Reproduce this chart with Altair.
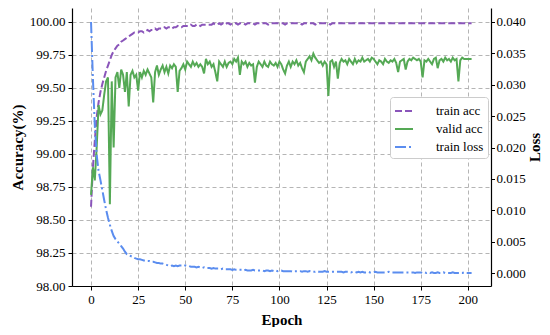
import altair as alt
import pandas as pd

FONT = "Liberation Serif"

epochs = list(range(203))

train_acc = [
    98.60, 98.90, 99.10, 99.28, 99.39, 99.47, 99.53, 99.58, 99.63, 99.67,
    99.71, 99.75, 99.78, 99.80, 99.82, 99.83, 99.85, 99.86, 99.87, 99.88,
    99.89, 99.90, 99.91, 99.92, 99.92, 99.92, 99.93, 99.93, 99.92, 99.93,
    99.94, 99.93, 99.94, 99.94, 99.95, 99.94, 99.95, 99.95, 99.95, 99.96,
    99.95, 99.96, 99.96, 99.95, 99.96, 99.96, 99.97, 99.96, 99.96, 99.97,
    99.97, 99.97, 99.97, 99.98, 99.97, 99.97, 99.98, 99.98, 99.97, 99.98,
    99.98, 99.98, 99.98, 99.98, 99.98, 99.99, 99.98, 99.98, 99.99, 99.98,
    99.99, 99.98, 99.99, 99.99, 99.98, 99.99, 99.99, 99.99, 99.98, 99.99,
    99.99, 99.99, 99.98, 99.99, 99.99, 99.99, 99.99, 99.98, 99.99, 99.99,
    99.99, 99.99, 99.99, 99.99, 99.98, 99.99, 99.99, 99.99, 99.99, 99.99,
    99.99, 99.99, 99.99, 99.98, 99.99, 99.99, 99.99, 99.99, 99.99, 99.99,
    99.99, 99.99, 99.98, 99.99, 99.99, 99.99, 99.99, 99.99, 99.99, 99.98,
    99.99, 99.99, 99.99, 99.99, 99.99, 99.99, 99.99, 99.98, 99.99, 99.99,
    99.99, 99.99, 99.99, 99.99, 99.99, 99.99, 99.99, 99.99, 99.99, 99.99,
    99.99, 99.99, 99.99, 99.99, 99.99, 99.99, 99.99, 99.99, 99.99, 99.99,
    99.99, 99.99, 99.99, 99.99, 99.99, 99.99, 99.99, 99.99, 99.99, 99.99,
    99.99, 99.99, 99.99, 99.99, 99.99, 99.99, 99.99, 99.99, 99.99, 99.99,
    99.99, 99.99, 99.99, 99.99, 99.99, 99.99, 99.99, 99.99, 99.99, 99.99,
    99.99, 99.99, 99.99, 99.99, 99.99, 99.99, 99.99, 99.99, 99.99, 99.99,
    99.99, 99.99, 99.99, 99.99, 99.99, 99.99, 99.99, 99.99, 99.99, 99.99,
    99.99, 99.99, 99.99,
]

valid_acc = [
    98.69, 98.90, 98.80, 99.05, 99.37, 99.30, 99.33, 99.45, 99.55, 99.58,
    98.62, 99.55, 99.05, 99.58, 99.62, 99.50, 99.64, 99.60, 99.47, 99.62,
    99.36, 99.60, 99.63, 99.58, 99.60, 99.48, 99.62, 99.58, 99.63, 99.60,
    99.64, 99.61, 99.58, 99.39, 99.62, 99.67, 99.60, 99.64, 99.67, 99.62,
    99.66, 99.61, 99.67, 99.65, 99.68, 99.66, 99.47, 99.63, 99.65, 99.68,
    99.64, 99.70, 99.68, 99.66, 99.70, 99.67, 99.69, 99.66, 99.68, 99.66,
    99.61, 99.72, 99.68, 99.70, 99.66, 99.68, 99.62, 99.55, 99.70, 99.68,
    99.66, 99.70, 99.66, 99.69, 99.70, 99.68, 99.72, 99.70, 99.73, 99.60,
    99.70, 99.68, 99.70, 99.66, 99.69, 99.67, 99.68, 99.54, 99.66, 99.70,
    99.68, 99.66, 99.70, 99.67, 99.66, 99.70, 99.68, 99.67, 99.69, 99.66,
    99.70, 99.68, 99.64, 99.61, 99.67, 99.70, 99.66, 99.70, 99.68, 99.71,
    99.67, 99.69, 99.65, 99.62, 99.70, 99.72, 99.74, 99.71, 99.76, 99.73,
    99.71, 99.69, 99.70, 99.67, 99.70, 99.68, 99.44, 99.70, 99.71, 99.66,
    99.70, 99.57, 99.69, 99.72, 99.70, 99.71, 99.68, 99.72, 99.70, 99.68,
    99.72, 99.69, 99.71, 99.70, 99.73, 99.70, 99.71, 99.72, 99.70, 99.73,
    99.72, 99.70, 99.68, 99.71, 99.70, 99.68, 99.72, 99.70, 99.69, 99.71,
    99.70, 99.72, 99.69, 99.62, 99.70, 99.71, 99.72, 99.64, 99.70, 99.72,
    99.71, 99.73, 99.72, 99.71, 99.72, 99.70, 99.58, 99.71, 99.70, 99.72,
    99.70, 99.68, 99.72, 99.73, 99.65, 99.71, 99.72, 99.70, 99.73, 99.71,
    99.72, 99.70, 99.73, 99.71, 99.72, 99.55, 99.71, 99.73, 99.72, 99.72,
    99.72, 99.72, 99.72,
]

train_loss = [
    0.0400, 0.0310, 0.0235, 0.0188, 0.0163, 0.0148, 0.0132, 0.0116, 0.0101, 0.0088,
    0.0077, 0.0067, 0.0059, 0.0054, 0.0050, 0.0047, 0.0043, 0.0039, 0.0034, 0.0030,
    0.0028, 0.0027, 0.0026, 0.0024, 0.0023, 0.0022, 0.0022, 0.0021, 0.0020, 0.0020,
    0.0019, 0.0019, 0.0018, 0.0018, 0.0017, 0.0016, 0.0016, 0.0015, 0.0015, 0.0014,
    0.0013, 0.0012, 0.0011, 0.0012, 0.0011, 0.0012, 0.0011, 0.0012, 0.0012, 0.0013,
    0.0012, 0.0011, 0.0011, 0.0010, 0.0010, 0.0010, 0.0009, 0.0010, 0.0009, 0.0008,
    0.0009, 0.0008, 0.0008, 0.0008, 0.0007, 0.0008, 0.0007, 0.0007, 0.0007, 0.0006,
    0.0007, 0.0006, 0.0006, 0.0006, 0.0006, 0.0005, 0.0006, 0.0005, 0.0005, 0.0005,
    0.0005, 0.0004, 0.0005, 0.0004, 0.0004, 0.0004, 0.0005, 0.0004, 0.0004, 0.0004,
    0.0004, 0.0004, 0.0003, 0.0004, 0.0004, 0.0003, 0.0004, 0.0003, 0.0004, 0.0003,
    0.0004, 0.0004, 0.0003, 0.0003, 0.0003, 0.0003, 0.0003, 0.0002, 0.0003, 0.0003,
    0.0003, 0.0003, 0.0002, 0.0003, 0.0003, 0.0002, 0.0003, 0.0002, 0.0002, 0.0002,
    0.0003, 0.0002, 0.0002, 0.0002, 0.0003, 0.0002, 0.0002, 0.0002, 0.0002, 0.0002,
    0.0002, 0.0002, 0.0002, 0.0002, 0.0001, 0.0002, 0.0002, 0.0002, 0.0001, 0.0002,
    0.0002, 0.0001, 0.0002, 0.0001, 0.0002, 0.0001, 0.0001, 0.0002, 0.0001, 0.0001,
    0.0001, 0.0002, 0.0001, 0.0001, 0.0001, 0.0001, 0.0001, 0.0001, 0.0002, 0.0001,
    0.0001, 0.0001, 0.0001, 0.0001, 0.0001, 0.0001, 0.0001, 0.0001, 0.0001, 0.0001,
    0.0001, 0.0001, 0.0000, 0.0001, 0.0001, 0.0001, 0.0000, 0.0001, 0.0000, 0.0001,
    0.0000, 0.0001, 0.0000, 0.0000, 0.0001, 0.0000, 0.0000, 0.0001, 0.0000, 0.0000,
    0.0000, 0.0000, 0.0001, 0.0000, 0.0000, 0.0000, 0.0000, 0.0000, 0.0001, 0.0000,
    0.0000, 0.0000, 0.0000,
]

series_names = ["train acc", "valid acc", "train loss"]
series_colors = ["#8a55ba", "#55a955", "#5b8def"]
series_dashes = [[7, 3], [1, 0], [11, 3, 2, 3]]

x_ticks = [0, 25, 50, 75, 100, 125, 150, 175, 200]
acc_ticks = [98.00, 98.25, 98.50, 98.75, 99.00, 99.25, 99.50, 99.75, 100.00]
loss_ticks = [0.000, 0.005, 0.010, 0.015, 0.020, 0.025, 0.030, 0.035, 0.040]

n = len(epochs)
acc_df = pd.DataFrame({
    "epoch": epochs + epochs,
    "value": train_acc + valid_acc,
    "series": ["train acc"] * n + ["valid acc"] * n,
})
loss_df = pd.DataFrame({
    "epoch": epochs,
    "value": train_loss,
    "series": ["train loss"] * n,
})

legend = alt.Legend(
    title=None, orient="none", legendX=318, legendY=89,
    symbolType="stroke", symbolSize=324, symbolStrokeWidth=2,
    labelFont=FONT, labelFontSize=13, labelColor="black", labelOffset=22,
    fillColor="white", strokeColor="#cccccc", cornerRadius=3,
    padding=4, rowPadding=1,
)
color = alt.Color("series:N", scale=alt.Scale(domain=series_names, range=series_colors), legend=legend)
dash = alt.StrokeDash("series:N", scale=alt.Scale(domain=series_names, range=series_dashes), legend=legend)

common_axis = dict(
    labelFont=FONT, titleFont=FONT, labelFontSize=13, titleFontSize=15,
    titleFontWeight="bold", labelColor="black", titleColor="black",
    tickColor="black", domainColor="black", domainWidth=1.2, tickWidth=1,
)

x_enc = alt.X("epoch:Q", scale=alt.Scale(domain=[-10.1, 212.3], nice=False, zero=False),
              axis=alt.Axis(values=x_ticks, format="d", title="Epoch", grid=True,
                            gridDash=[4, 3], gridColor="#b5b5b5", labelFlush=False,
                            titlePadding=6, tickSize=4, labelPadding=3, **common_axis))

acc_chart = alt.Chart(acc_df).mark_line(strokeWidth=2, clip=True).encode(
    x=x_enc,
    y=alt.Y("value:Q", scale=alt.Scale(domain=[98.0, 100.106], nice=False, zero=False),
            axis=alt.Axis(values=acc_ticks, format=".2f", title="Accuracy(%)", grid=True,
                          gridDash=[4, 3], gridColor="#b5b5b5", titlePadding=4,
                          tickSize=4, labelPadding=3, **common_axis)),
    color=color,
    strokeDash=dash,
    order=alt.Order("epoch:Q"),
)

loss_chart = alt.Chart(loss_df).mark_line(strokeWidth=2, clip=True).encode(
    x=x_enc,
    y=alt.Y("value:Q", scale=alt.Scale(domain=[-0.00207, 0.04223], nice=False, zero=False),
            axis=alt.Axis(values=loss_ticks, format=".3f", title="Loss", orient="right",
                          grid=False, titleAngle=270, titleX=43, titleY=139,
                          titleAlign="center", titleBaseline="middle",
                          tickSize=3.5, labelPadding=1.5, **common_axis)),
    color=color,
    strokeDash=dash,
    order=alt.Order("epoch:Q"),
)

chart = alt.layer(acc_chart, loss_chart).resolve_scale(y="independent").properties(
    width=419, height=278, autosize="none",
    padding={"left": 64, "top": 0, "right": 51, "bottom": 41},
).configure(font=FONT).configure_axis(labelFont=FONT, titleFont=FONT).configure_view(stroke=None)

chart.save("out.html", embed_options={"renderer": "svg", "actions": False})
